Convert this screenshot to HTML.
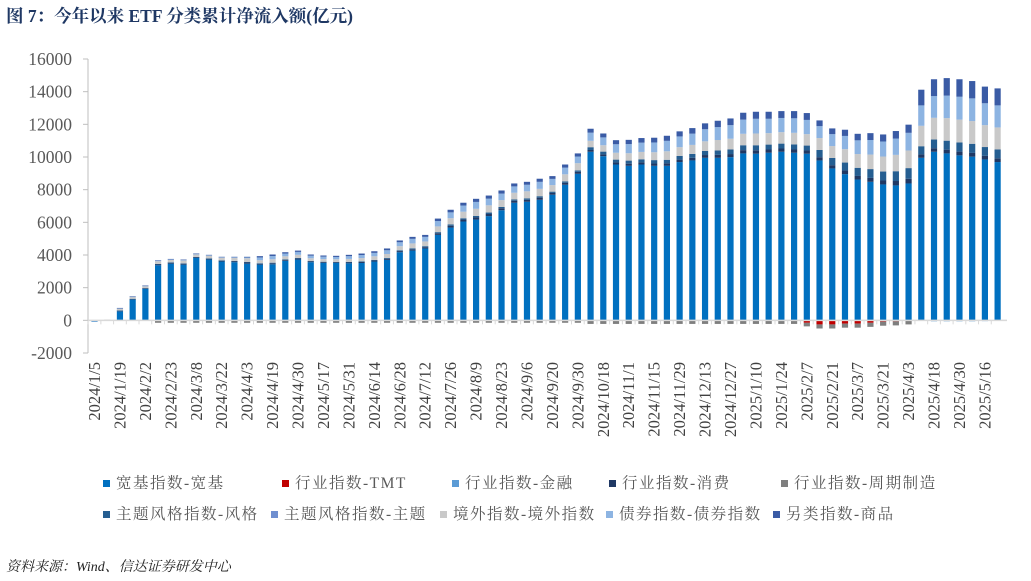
<!DOCTYPE html>
<html><head><meta charset="utf-8">
<style>
body{margin:0;width:1031px;height:581px;background:#fff;overflow:hidden;font-family:"Liberation Serif","Noto Serif CJK SC",serif;}
#title{position:absolute;left:6px;top:3px;font-size:17.5px;font-weight:bold;color:#1F3864;white-space:nowrap;}
#source{position:absolute;left:6px;top:556px;font-size:14px;font-style:italic;color:#222;white-space:nowrap;}
svg{position:absolute;left:0;top:0;}
</style></head><body>
<div id="title">图 7：今年以来 ETF 分类累计净流入额(亿元)</div>
<svg id="chart" width="1031" height="581"></svg>
<div id="source">资料来源：Wind、信达证券研发中心</div>
<script>
const labels=["2024/1/5","2024/1/19","2024/2/2","2024/2/23","2024/3/8","2024/3/22","2024/4/3","2024/4/19","2024/4/30","2024/5/17","2024/5/31","2024/6/14","2024/6/28","2024/7/12","2024/7/26","2024/8/9","2024/8/23","2024/9/6","2024/9/20","2024/9/30","2024/10/18","2024/11/1","2024/11/15","2024/11/29","2024/12/13","2024/12/27","2025/1/10","2025/1/24","2025/2/7","2025/2/21","2025/3/7","2025/3/21","2025/4/3","2025/4/18","2025/4/30","2025/5/16"];
const yTicks=[-2000,0,2000,4000,6000,8000,10000,12000,14000,16000];
const broad=[-50,0,550,1270,1920,3370,3470,3410,3820,3720,3600,3560,3470,3410,3430,3640,3720,3560,3510,3510,3490,3510,3600,3700,4170,4270,4400,5230,5680,6050,6170,6380,6740,7200,7260,7380,7690,8300,8970,10320,10050,9540,9460,9540,9460,9460,9690,9790,9950,9950,9990,10220,10200,10260,10320,10260,10200,9790,9300,8950,8620,8480,8320,8260,8380,9950,10320,10220,10100,10020,9850,9690];
const tmt=[0,0,0,0,0,0,0,0,0,0,0,0,0,0,0,0,0,0,0,0,0,0,0,0,0,0,0,0,0,0,0,0,0,0,0,0,0,0,0,0,0,0,0,0,0,0,0,0,0,0,0,0,0,0,0,0,-150,-250,-250,-200,-200,-150,-80,-60,0,0,0,0,0,0,0,0];
const finance=[-50,0,0,0,0,0,0,0,0,0,0,0,0,0,0,0,0,0,0,0,0,0,0,0,0,0,0,0,0,0,0,0,0,0,0,0,0,0,0,0,0,0,0,0,0,0,0,0,0,0,0,0,0,0,0,0,0,0,0,0,0,0,0,0,0,-40,-60,-60,-60,-60,-50,-40];
const consumer=[0,0,40,40,40,60,60,60,50,60,60,60,80,50,60,50,60,50,50,40,50,60,60,70,70,80,80,100,110,120,130,130,120,120,120,130,110,120,120,110,110,120,130,130,140,150,150,160,170,180,190,200,210,200,200,200,200,200,200,220,220,240,240,270,290,210,220,230,230,230,220,230];
const cyclical=[0,0,0,0,0,-150,-150,-150,-150,-150,-150,-150,-150,-150,-150,-150,-150,-150,-150,-150,-150,-150,-150,-150,-150,-150,-150,-150,-150,-150,-150,-150,-150,-150,-150,-150,-150,-150,-150,-220,-220,-220,-220,-220,-220,-220,-220,-220,-220,-220,-220,-220,-220,-220,-220,-220,-220,-250,-250,-250,-250,-250,-250,-250,-250,0,0,0,0,0,0,0];
const style=[0,0,10,10,10,20,10,20,10,10,10,20,20,40,40,40,40,30,30,30,40,40,40,50,50,60,60,70,80,80,90,90,80,80,90,90,80,90,90,170,170,180,190,190,210,220,230,240,250,270,280,300,310,300,300,310,300,440,440,490,500,540,550,600,650,500,530,550,560,560,540,540];
const theme=[0,0,0,0,0,0,0,0,0,0,0,0,0,0,0,0,0,0,0,0,0,0,0,0,0,0,0,0,0,0,0,0,0,0,0,0,0,0,0,0,0,0,0,0,0,0,0,0,0,0,0,0,0,0,0,0,0,0,0,0,0,0,0,0,0,0,0,0,0,0,0,0];
const overseas=[0,50,120,110,120,170,160,170,150,160,160,180,230,180,210,190,190,160,160,160,180,200,220,240,250,300,290,350,380,400,440,440,420,410,430,450,400,430,440,390,390,420,450,450,480,520,530,550,590,640,660,700,720,700,700,710,700,730,730,820,840,890,920,1000,1080,1250,1330,1380,1400,1390,1340,1350];
const bond=[0,0,20,20,20,30,30,30,30,30,30,40,50,170,200,170,180,160,150,140,170,190,210,230,240,280,280,330,360,380,420,410,400,390,400,430,380,410,410,500,480,520,560,570,600,640,660,690,740,790,830,870,900,880,870,890,870,730,730,810,840,890,920,1000,1080,1250,1330,1380,1400,1390,1340,1350];
const commodity=[0,0,20,20,20,30,30,30,30,30,30,30,40,80,90,80,80,70,70,70,80,90,100,110,110,120,120,150,160,170,190,190,190,180,180,190,170,190,190,240,240,250,260,280,290,310,310,340,360,390,410,420,430,430,420,440,420,350,350,380,400,420,430,460,500,960,1030,1070,1070,1060,1020,1040];

const series=[
 {name:"宽基指数-宽基",key:"broad",data:broad,color:"#0070C0"},
 {name:"行业指数-TMT",key:"tmt",data:tmt,color:"#C00000"},
 {name:"行业指数-金融",key:"finance",data:finance,color:"#5B9BD5"},
 {name:"行业指数-消费",key:"consumer",data:consumer,color:"#1F3864"},
 {name:"行业指数-周期制造",key:"cyclical",data:cyclical,color:"#7F7F7F"},
 {name:"主题风格指数-风格",key:"style",data:style,color:"#255E91"},
 {name:"主题风格指数-主题",key:"theme",data:theme,color:"#6F8FD0"},
 {name:"境外指数-境外指数",key:"overseas",data:overseas,color:"#C9C9C9"},
 {name:"债券指数-债券指数",key:"bond",data:bond,color:"#8DB4E2"},
 {name:"另类指数-商品",key:"commodity",data:commodity,color:"#3A5BA5"}
];
const NS="http://www.w3.org/2000/svg";
const svg=document.getElementById('chart');
const X0=88, X1=1007, Y0=59, Y1=353, vmin=-2000, vmax=16000;
const n=broad.length;
const step=12.72, firstX=94.5;
function xs(i){return firstX+i*step;}
function ys(v){return Y1-(v-vmin)/(vmax-vmin)*(Y1-Y0);}
function mk(tag,attrs){const e=document.createElementNS(NS,tag);for(const k in attrs)e.setAttribute(k,attrs[k]);svg.appendChild(e);return e;}
const ya=mk('line',{x1:X0,y1:Y0,x2:X0,y2:Y1,stroke:'#BFBFBF','stroke-width':1});


yTicks.forEach(t=>{
 const y=ys(t);
 const tk=mk('line',{x1:X0-5,y1:y,x2:X0,y2:y,stroke:'#BFBFBF'});
 
 
 const tx=mk('text',{x:X0-16,y:y+6,'text-anchor':'end','font-size':17.5,fill:'#595959','font-family':'"Liberation Serif",serif'});
 tx.textContent=t;
 
 
});
for(let i=0;i<n;i++){
 let pos=0,neg=0;
 const w=6.2,x=xs(i)-w/2;
 series.forEach(s=>{
  const v=s.data[i]; if(!v)return;
  let a,b;
  if(v>0){a=pos;b=pos+v;pos=b;}else{a=neg;b=neg+v;neg=b;}
  const y1=ys(Math.max(a,b)),y2=ys(Math.min(a,b));
  const r=mk('rect',{x:x,y:y1,width:w,height:Math.max(0.5,y2-y1),fill:s.color});
  
  
 });
}
const xa=mk('line',{x1:X0,y1:ys(0),x2:X1,y2:ys(0),stroke:'#D9D9D9','stroke-width':1.5});


for(let i=0;i<n;i++){
 const tk=mk('line',{x1:xs(i)-step/2,y1:ys(0),x2:xs(i)-step/2,y2:ys(0)+4,stroke:'#D9D9D9'});
 
 
}
labels.forEach((l,j)=>{
 const x=xs(j*2)+5.5, y=362;
 const t=mk('text',{x:x,y:y,transform:`rotate(-90 ${x} ${y})`,'text-anchor':'end','font-size':16.5,fill:'#404040','font-family':'"Liberation Serif",serif'});
 t.textContent=l;
 
 
});
const lx=[103,282,452,609,781,103,271,440,606,773], ly=[487,487,487,487,487,518,518,518,518,518];
series.forEach((s,k)=>{
 const g=document.createElementNS(NS,'g');svg.appendChild(g);
 
 
 const r=document.createElementNS(NS,'rect');
 r.setAttribute('x',lx[k]);r.setAttribute('y',ly[k]-7);r.setAttribute('width',7);r.setAttribute('height',7);r.setAttribute('fill',s.color);
 g.appendChild(r);
 const t=document.createElementNS(NS,'text');
 t.setAttribute('x',lx[k]+13);t.setAttribute('y',ly[k]+1);t.setAttribute('font-size',15.5);t.setAttribute('fill','#595959');
 t.setAttribute('font-family','"Liberation Serif","Noto Serif CJK SC",serif');t.setAttribute('letter-spacing','1.5');
 t.textContent=s.name;g.appendChild(t);
});
</script>
</body></html>
